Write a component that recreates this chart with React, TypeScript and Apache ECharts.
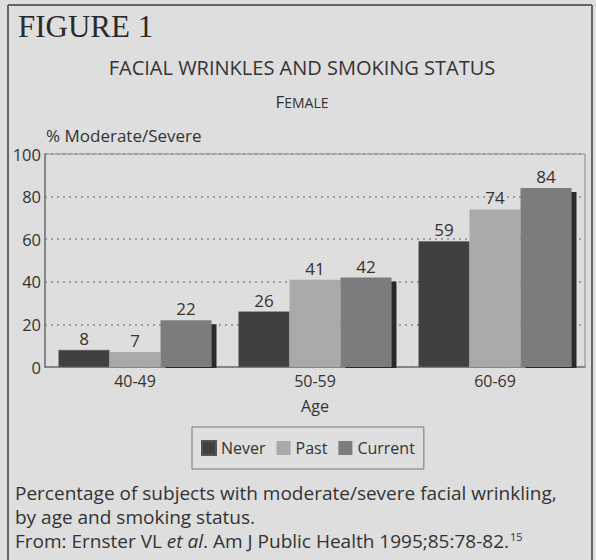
import React, { useEffect, useRef } from "react";
import * as echarts from "echarts";

const categories = ["40-49", "50-59", "60-69"];
const seriesNames = ["Never", "Past", "Current"];
const neverValues = [8, 26, 59];
const pastValues = [7, 41, 74];
const currentValues = [22, 42, 84];
const yTicks = [0, 20, 40, 60, 80, 100];

const FONT = "Open Sans";
const BG = "#dedede";
const INK = "#333333";

export default function App() {
  const ref = useRef<HTMLDivElement>(null);

  useEffect(() => {
    if (!ref.current) return;
    const chart = echarts.init(ref.current, undefined, { renderer: "svg" });
    const label = {
      show: true,
      position: "top",
      distance: 3,
      fontFamily: FONT,
      fontSize: 17,
      color: INK,
    };
    const option: any = {
      animation: false,
      backgroundColor: BG,
      textStyle: { fontFamily: FONT },
      grid: {
        left: 45,
        top: 154,
        right: 11,
        bottom: 193,
        show: true,
        borderColor: "#8a8a8a",
        borderWidth: 1,
        backgroundColor: "transparent",
      },
      legend: {
        data: seriesNames,
        left: 192,
        top: 427,
        orient: "horizontal",
        padding: [13, 9, 13, 9],
        itemGap: 11,
        itemWidth: 14,
        itemHeight: 14,
        borderColor: "#777",
        borderWidth: 1,
        icon: "rect",
        textStyle: { fontFamily: FONT, fontSize: 16, color: INK },
      },
      xAxis: {
        type: "category",
        data: categories,
        axisLine: { show: true, lineStyle: { color: "#777", width: 1.5 } },
        axisTick: { show: false },
        axisLabel: { fontFamily: FONT, fontSize: 16, color: INK, margin: 6 },
        name: "Age",
        nameLocation: "middle",
        nameGap: 31,
        nameTextStyle: { fontFamily: FONT, fontSize: 16, color: INK },
      },
      yAxis: {
        type: "value",
        min: yTicks[0],
        max: yTicks[yTicks.length - 1],
        interval: 20,
        axisLine: { show: true, lineStyle: { color: "#777", width: 1.5 } },
        axisTick: { show: false },
        axisLabel: { fontFamily: FONT, fontSize: 16.5, color: INK, margin: 4 },
        splitLine: {
          show: true,
          lineStyle: { color: "#8a8a8a", width: 1.5, type: [2, 4] },
        },
      },
      series: [
        {
          name: seriesNames[0],
          type: "bar",
          data: neverValues,
          barWidth: 51,
          barGap: "0%",
          itemStyle: { color: "#404040", borderColor: "#555", borderWidth: 0.5 },
          label,
        },
        {
          name: seriesNames[1],
          type: "bar",
          data: pastValues,
          barWidth: 51,
          barGap: "0%",
          itemStyle: { color: "#a9a9a9" },
          label,
        },
        {
          name: seriesNames[2],
          type: "bar",
          data: currentValues,
          barWidth: 51,
          barGap: "0%",
          itemStyle: {
            color: "#7c7c7c",
            shadowColor: "#2c2c2c",
            shadowBlur: 0,
            shadowOffsetX: 5,
            shadowOffsetY: 4,
          },
          label,
        },
      ],
      graphic: [
        {
          type: "rect",
          z: 100,
          shape: { x: 46, y: 368, width: 545, height: 5 },
          style: { fill: BG },
          silent: true,
        },
        {
          type: "line",
          z: 100,
          shape: { x1: 8, y1: 5, x2: 592, y2: 5 },
          style: { stroke: "#666", lineWidth: 2 },
        },
        {
          type: "line",
          z: 100,
          shape: { x1: 8, y1: 5, x2: 8, y2: 560 },
          style: { stroke: "#666", lineWidth: 2 },
        },
        {
          type: "line",
          z: 100,
          shape: { x1: 592, y1: 5, x2: 592, y2: 560 },
          style: { stroke: "#666", lineWidth: 2 },
        },
        {
          type: "text",
          z: 100,
          x: 18,
          y: 26,
          style: {
            text: "FIGURE 1",
            fontFamily: "Liberation Serif",
            fontSize: 31,
            fill: "#2a2a2a",
            verticalAlign: "middle",
          },
        },
        {
          type: "text",
          z: 100,
          x: 302,
          y: 67,
          style: {
            text: "FACIAL WRINKLES AND SMOKING STATUS",
            fontFamily: FONT,
            fontSize: 20,
            fill: INK,
            align: "center",
            verticalAlign: "middle",
          },
        },
        {
          type: "text",
          z: 100,
          x: 302,
          y: 101,
          style: {
            text: "{a|F}{b|EMALE}",
            align: "center",
            verticalAlign: "middle",
            rich: {
              a: { fontFamily: FONT, fontSize: 17, fill: INK, verticalAlign: "bottom" },
              b: { fontFamily: FONT, fontSize: 14, fill: INK, verticalAlign: "bottom" },
            },
          },
        },
        {
          type: "text",
          z: 100,
          x: 46,
          y: 135,
          style: {
            text: "% Moderate/Severe",
            fontFamily: FONT,
            fontSize: 17,
            fill: INK,
            verticalAlign: "middle",
          },
        },
        {
          type: "text",
          z: 100,
          x: 15,
          y: 493,
          style: {
            text: "Percentage of subjects with moderate/severe facial wrinkling,",
            fontFamily: FONT,
            fontSize: 19,
            lineHeight: 21,
            fill: INK,
            verticalAlign: "middle",
          },
        },
        {
          type: "text",
          z: 100,
          x: 15,
          y: 517,
          style: {
            text: "by age and smoking status.",
            fontFamily: FONT,
            fontSize: 19,
            lineHeight: 21,
            fill: INK,
            verticalAlign: "middle",
          },
        },
        {
          type: "text",
          z: 100,
          x: 15,
          y: 541,
          style: {
            text: "{n|From: Ernster VL }{i|et al}{n|. Am J Public Health 1995;85:78-82.}{s|15}",
            verticalAlign: "middle",
            rich: {
              n: { fontFamily: FONT, fontSize: 19, lineHeight: 21, fill: INK },
              i: { fontFamily: FONT, fontSize: 19, lineHeight: 21, fontStyle: "italic", fill: INK },
              s: { fontFamily: FONT, fontSize: 11, lineHeight: 21, fill: INK, verticalAlign: "top", padding: [0, 0, 6, 1] },
            },
          },
        },
      ],
    };
    chart.setOption(option);
    return () => chart.dispose();
  }, []);

  return (
    <div
      ref={ref}
      style={{ position: "fixed", left: 0, top: 0, width: 596, height: 560 }}
    />
  );
}
